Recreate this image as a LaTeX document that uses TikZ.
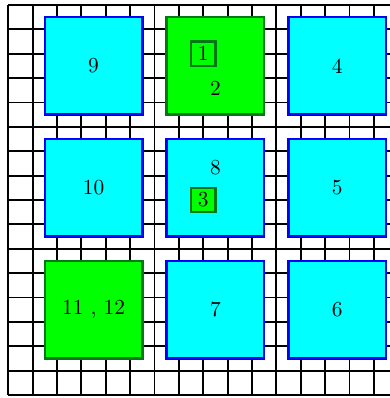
\documentclass[tikz,border=0pt]{standalone}
\definecolor{aquafill}{RGB}{0,255,255}
\definecolor{limefill}{RGB}{0,255,0}
\definecolor{blueline}{RGB}{0,0,255}
\definecolor{greenline}{RGB}{0,120,20}
\begin{document}
\begin{tikzpicture}[x=0.4cm,y=0.4cm,
  gridline/.style={line width=0.9pt, black},
  bigbox/.style={line width=1.2pt, minimum size=1.6cm, inner sep=0pt},
  cyanbox/.style={bigbox, draw=blueline, fill=aquafill},
  greenbox/.style={bigbox, draw=greenline, fill=limefill},
  smallbox/.style={draw=greenline, fill=limefill, line width=1pt, minimum size=0.4cm, inner sep=0pt},
  lbl/.style={inner sep=0pt}]
\useasboundingbox (-0.34,-16.125) rectangle (15.66,0.205);
\clip (-0.34,-16.125) rectangle (15.66,0.205);
\draw[gridline, step=0.4cm] (0,0) grid (16,-16);
\node[cyanbox] (b9) at (3.5,-2.5) {9};
\node[greenbox] (b2) at (8.5,-2.5) {};
\node[cyanbox] (b4) at (13.5,-2.5) {4};
\node[cyanbox] (b10) at (3.5,-7.5) {10};
\node[cyanbox] (b8) at (8.5,-7.5) {};
\node[cyanbox] (b5) at (13.5,-7.5) {5};
\node[greenbox] (b11) at (3.5,-12.5) {11 , 12};
\node[cyanbox] (b7) at (8.5,-12.5) {7};
\node[cyanbox] (b6) at (13.5,-12.5) {6};
\node[smallbox] (s1) at (8,-2) {1};
\node[lbl] (t2) at (8.5,-3.43) {2};
\node[smallbox] (s3) at (8,-8) {3};
\node[lbl] (t8) at (8.5,-6.66) {8};
\end{tikzpicture}
\end{document}
